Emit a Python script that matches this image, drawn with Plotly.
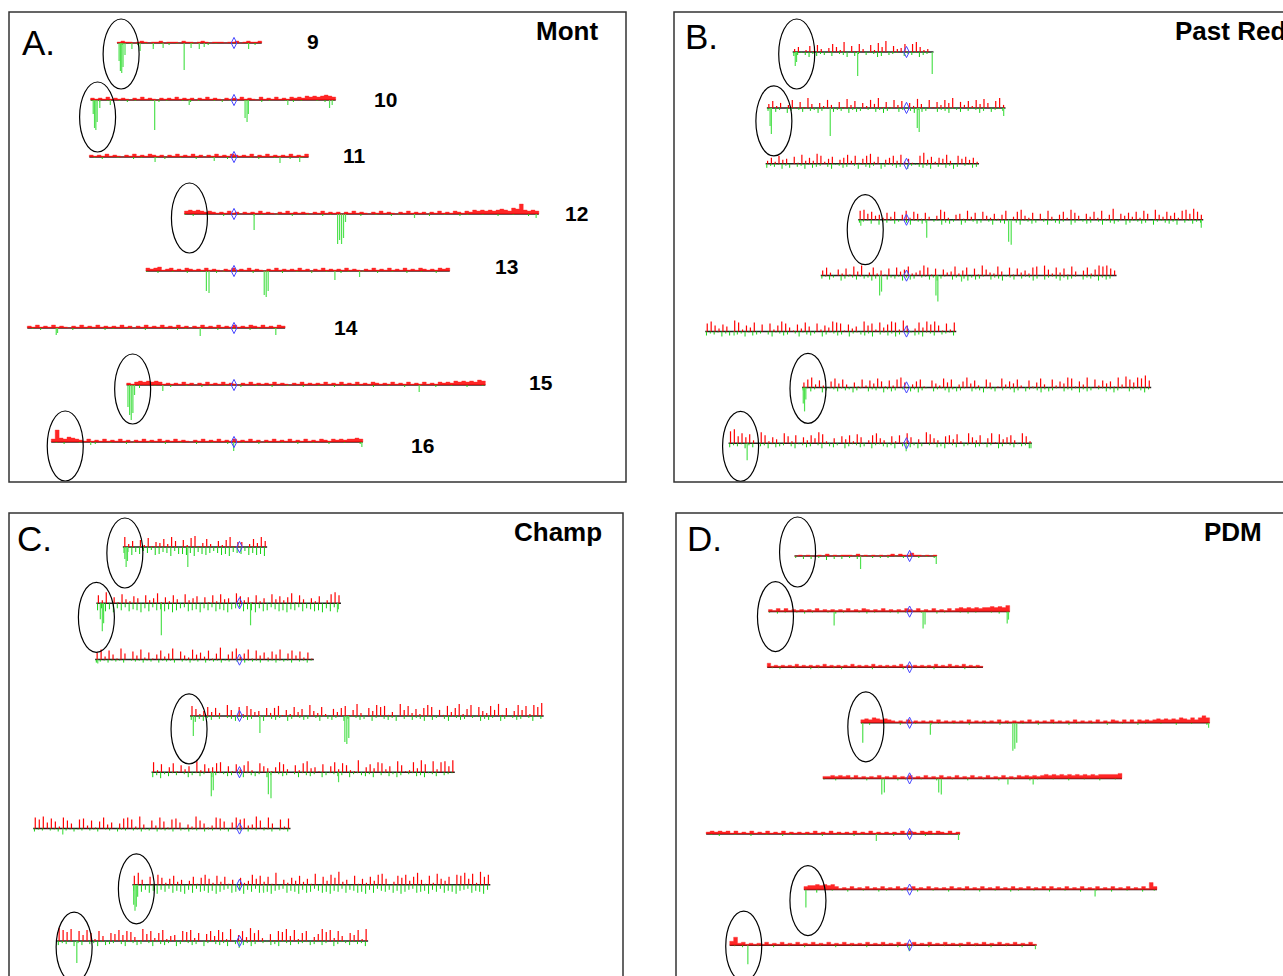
import plotly.graph_objects as go

# ---------------- data ----------------
CHROMS = [9, 10, 11, 12, 13, 14, 15, 16]
CHR_LEN_KB = [439.9, 745.7, 666.8, 1078.2, 924.4, 784.3, 1091.3, 948.1]
CEN_KB = [355.6, 436.3, 440.1, 150.8, 268.0, 628.8, 326.6, 556.0]
PANEL_LETTERS = ["A.", "B.", "C.", "D."]
PANEL_NAMES = ["Mont", "Past Red", "Champ", "PDM"]

# red (up) signal per bin, base-36 digits; green (down) small signal per bin
RED_A = [
    "12110121011201110211012101110112012112",
    "2121312121021312102121312120213121021213121031213121323243434543",
    "21213121021312132120213121312021312132121302131212131213",
    "34343232121312021213121021312121021312120213121021312102131212021312132132434343454365a4343",
    "323412312132121312102131213121021312121312021312121312102131213121312132121323",
    "2131213121021312131212131202131213121312021312131213121321312132",
    "2134343431212131202131213121021312121312102131212131213121312132121312131213121323243434354",
    "3c43543213121312131202131213121312102131213121312131202131213121312132132323343",
]
GREEN_A = [
    "0201020103010201000100020100010001020",
    "10201001020100010201000102010001020100010002010001020100010201",
    "01020001000201000102000100020001000201000102000100020010",
    "102000100020001000201000100020001000201000100020001000201000100020001000201000100020001000201",
    "10020001000200010002010001000200010002000100020001000201000100020001000200010002000",
    "0102000100020001000201000100020001000201000100020001000201000100",
    "00030001000200010002010001000200010002000100020001000201000100020001000200010002000100020001",
    "01020001000200010002010001000200010002000100020001000201000100020001000200010002",
]
DIPS_A = [
    [(6, 18), (10, 28), (14, 30), (18, 24), (24, 12), (45, 6), (70, 8), (110, 6), (140, 5), (204, 27), (225, 5), (250, 6), (265, 4), (400, 6)],
    [(8, 14), (12, 28), (16, 30), (20, 22), (28, 8), (60, 5), (195, 30), (300, 5), (470, 18), (476, 22), (480, 14), (600, 5), (727, 8), (735, 5)],
    [(200, 5), (380, 4), (580, 6), (640, 5)],
    [(212, 16), (466, 30), (472, 26), (478, 30), (484, 24), (490, 8), (700, 4), (1070, 4)],
    [(184, 20), (192, 22), (360, 24), (366, 26), (372, 20), (575, 9), (650, 6)],
    [(88, 7), (92, 5), (526, 8), (756, 7)],
    [(4, 22), (9, 30), (14, 35), (19, 28), (24, 10), (110, 6), (890, 7)],
    [(120, 3), (555, 9), (945, 5)],
]

RED_B = [
    "3502617304852a0618307295b0634818a5230",
    "4725038161a40528306193705284a161837052940816385a06372849507a3",
    "3628450719363a8257046938158a2704683925108b47265930857462",
    "9a6845273805928617304a82056193708426159038a427061930582a7406382915b0647382960a5384729a6b85",
    "5830627194a038251708469235a81706349258071a632940817352890a6283719405826a9a75",
    "8a63750b92649070826a841739508264a9817350a682947a92b60394a7a61829",
    "58a3720694830518274961728a5036810742958036a4720850193648207159308264a9163a0827461a3b85a9c7",
    "ce7a6930b82640a72806385b92050748296038a5307281a6040b9530784920a63805a1946830a72",
]
GREEN_B = [
    "4313524231402351420312540321042315320",
    "31420531241325310423152430214253104213524310423512403125304213",
    "42315240325143203512430251342053124305213425031425302143",
    "3214052314203512430215342053124302513420351243025134205312430251342053124305213425031423",
    "31420531241325310423152430214253104213524310423512403125304213524310423152430",
    "42315240325143203512430251342053124305213425031425302143512403214",
    "3142053124132531042315243021425310421352431042351240312530421352431042315243021425310421352",
    "4231524032514320351243025134205312430521342503142530214351240321431420531241325",
]
DIPS_B = [
    [(8, 14), (12, 10), (203, 24), (436, 22)],
    [(10, 18), (14, 26), (198, 28), (470, 20), (476, 24), (740, 8)],
    [],
    [(8, 6), (214, 18), (470, 22), (478, 25), (1072, 8)],
    [(184, 20), (190, 16), (360, 20), (366, 26), (440, 6)],
    [(90, 4)],
    [(4, 16), (8, 24), (12, 12)],
    [(58, 17), (555, 8), (945, 5)],
]

RED_C = [
    "a36072915483a60729b14830627a1550384a6",
    "83b061942750835a1628409357061829450a7361825094736a1840527039b8",
    "7a3951b6084a2715936b0842a573916c058b36a1947285a06948271",
    "a72594830b6192a7450838a1629470b53920748a16c3085b9a140c6a3728b9061a48c27b0953a6c1805b6a2b9d",
    "a2805917360b28459a061837b2096415a830729b451806a39721c0584a9360b712a4c80b3ab6c",
    "b9c6a72b8509a3817b4605ab92c4083b719a6042c8513ba706b9a34c81b5092a",
    "9c5081a72693504817a62938150724a69381c052749361b084a7d350916284ab60397a48c5192b6480a9c6b2d8a",
    "db9c0a6b82a5087b6a941c7a38b2560a9b3807a5b92c06a4d8b3071a9c5b28a047c9b3a5086b2c",
]
GREEN_C = [
    "6585746387569477869578646879567486879",
    "75869574867958476869754876957486796548679587468796748568795846",
    "32131213012131203121302131203121312021312130213121302131",
    "4635241302351243025134205312430251342053124305213425031423514203512430215342053124302513",
    "53624130253142053124302513420531243025134205312430521342503142530214351240321",
    "31202130213120213012031202131203121302131203120213012031202130213",
    "6475869574867958476869754876957486796548679587468796748568795846758697548769574867965486795",
    "4231524032514320351243025134205312430521342503142530214351240321431420531241325",
]
DIPS_C = [
    [(6, 12), (10, 20), (14, 14), (198, 20)],
    [(12, 16), (18, 28), (22, 20), (198, 32), (470, 22), (735, 9)],
    [(8, 4)],
    [(10, 20), (213, 17), (472, 26), (478, 28), (484, 22)],
    [(182, 24), (188, 18), (356, 22), (364, 26), (570, 10)],
    [(90, 6)],
    [(4, 20), (8, 26), (12, 22), (16, 12), (400, 8)],
    [(60, 22), (555, 7)],
]

RED_D = [
    "0101001020101110201010101202113110101",
    "21313121212131212121312132121312121321312131213134343434454546",
    "41212121312121213121212131212131212121312121212131213121312121",
    "34354343212131212121312121213121212131212121312121312121312121312132131313232343434354353575",
    "22323231312121312131213121312131213121312131213121323232343434343434343444445",
    "2323231312131213121312121213121312121312131212121313213231321312",
    "34454545312131213121312131213121312121312131213121312131213121313121312131213121312131213173",
    "4823121213121312131213121312131212131213121312131213121312121312131213121312131",
]
GREEN_D = [
    "2030302040303020301020202010201020102",
    "10201001020100010201000102010001020100010002010001020100010201",
    "01020001000201000102000100020001000201000102000100020010",
    "1020001000200010002010001000200010002010001000200010002010001000200010002010001000200010002",
    "10020001000200010002010001000200010002000100020001000201000100020001000200010",
    "0102000100020001000201000100020001000201000100020001000201000100",
    "0003000100020001000201000100020001000200010002000100020100010002000100020001000200010002001",
    "0102000100020001000200010002000100020001000200010002000100020001000200010002000",
]
DIPS_D = [
    [(204, 13), (438, 8)],
    [(203, 14), (478, 17), (484, 13), (738, 12), (742, 8)],
    [],
    [(6, 20), (215, 12), (470, 28), (476, 26), (482, 20), (1075, 5)],
    [(182, 16), (190, 14), (358, 14), (366, 16), (572, 6), (650, 6)],
    [(526, 7), (780, 6)],
    [(6, 18), (900, 7)],
    [(56, 19), (555, 6), (945, 4)],
]

RED = [RED_A, RED_B, RED_C, RED_D]
GREEN = [GREEN_A, GREEN_B, GREEN_C, GREEN_D]
DIPS = [DIPS_A, DIPS_B, DIPS_C, DIPS_D]

# ---------------- layout config ----------------
W, H = 1283, 976
BOX = [(9, 12, 626, 482), (674, 12, 1283, 482), (9, 513, 623, 976), (676, 513, 1283, 976)]
CEN_PX = [234, 906.5, 239.5, 909.6]
PX_PER_KB = [0.3287, 0.320, 0.328, 0.3235]
ROW0_PX = [43, 52, 547, 556]
ROW_GAP = [57, 55.9, 56.3, 55.6]
FRAME_BOTTOM_OPEN = [False, False, True, True]
FRAME_RIGHT_OPEN = [False, True, False, True]
RED_AS_PROFILE = [True, False, False, True]   # dense low signal drawn as a stepped band

ELL = [
    {0: (4, 11), 1: (7, 17), 3: (5, 4), 6: (6, 4), 7: (14, 4)},
    {0: (4, 2), 1: (7, 13), 3: (7, 10), 6: (6, 1), 7: (12, 3)},
    {0: (2, 6), 1: (0, 14), 3: (-1, 13), 6: (4, 4), 7: (17, 6)},
    {0: (3, -4), 1: (7, 5), 3: (5, 4), 6: (4, 11), 7: (14, 1)},
]
ELL_W, ELL_H = 36, 70

LABEL_OFF_PX = [51, 50, 46, 38, 57, 61, 56, 60]
LABEL_DY_PX = [-1, 0, -1, 0, -4, 0, -2, 4]

RED_COL = "rgb(255,0,0)"
GREEN_COL = "rgb(20,210,20)"
DIP_COL = "rgb(80,225,80)"
FONT = "Liberation Sans, Arial, Helvetica, sans-serif"

fig = go.Figure()
shapes = []
annotations = []

for p in range(4):
    l, t, r, b = BOX[p]
    ax = "" if p == 0 else str(p + 1)
    xa, ya = "x" + ax, "y" + ax
    s = PX_PER_KB[p]
    xr = [-(CEN_PX[p] - l) / s, (r - CEN_PX[p]) / s]
    yr = [b - ROW0_PX[p], t - ROW0_PX[p]]
    fig.layout["xaxis" + ax] = dict(domain=[l / W, r / W], range=xr, visible=False,
                                    fixedrange=True, anchor=ya)
    fig.layout["yaxis" + ax] = dict(domain=[1 - b / H, 1 - t / H], range=yr, visible=False,
                                    fixedrange=True, anchor=xa)

    bx, by, rx, ry, gx, gy, dx_, dy_ = [], [], [], [], [], [], [], []
    profiles = []
    for i, c in enumerate(CHROMS):
        row = i * ROW_GAP[p]
        start = -CEN_KB[i]
        L = CHR_LEN_KB[i]
        end = start + L
        bx += [start, end, None]
        by += [row, row, None]
        rs = RED[p][i]
        n = len(rs)
        if RED_AS_PROFILE[p]:
            px_, py_ = [start], [row]
            for j, ch in enumerate(rs):
                h = int(ch, 36)
                px_ += [start + j * L / n, start + (j + 1) * L / n]
                py_ += [row - h, row - h]
            px_ += [end, start]
            py_ += [row, row]
            profiles.append((px_, py_))
        else:
            for j, ch in enumerate(rs):
                h = int(ch, 36)
                if h:
                    x = start + (j + 0.5) * L / n
                    rx += [x, x, None]
                    ry += [row, row - h, None]
        gs = GREEN[p][i]
        n = len(gs)
        for j, ch in enumerate(gs):
            h = int(ch, 36)
            if h:
                x = start + (j + 0.3) * L / n
                gx += [x, x, None]
                gy += [row, row + h, None]
        for pos, dep in DIPS[p][i]:
            x = start + pos
            dx_ += [x, x, None]
            dy_ += [row, row + dep, None]

        if i in ELL[p]:
            ddx, ddy = ELL[p][i]
            cx = start + ddx / s
            cy = row + ddy
            shapes.append(dict(type="circle", xref=xa, yref=ya,
                               x0=cx - ELL_W / 2 / s, x1=cx + ELL_W / 2 / s,
                               y0=cy - ELL_H / 2, y1=cy + ELL_H / 2,
                               line=dict(color="black", width=1.2), layer="above"))
        if p == 0:
            annotations.append(dict(xref=xa, yref=ya, x=end + LABEL_OFF_PX[i] / s,
                                    y=row + LABEL_DY_PX[i], text="<b>" + str(c) + "</b>",
                                    showarrow=False,
                                    font=dict(family=FONT, size=21, color="black"),
                                    xanchor="center", yanchor="middle"))

    fig.add_trace(go.Scatter(x=bx, y=by, mode="lines", xaxis=xa, yaxis=ya,
                             line=dict(color="#222222", width=1.5), hoverinfo="skip"))
    fig.add_trace(go.Scatter(x=gx, y=gy, mode="lines", xaxis=xa, yaxis=ya,
                             line=dict(color=GREEN_COL, width=1), hoverinfo="skip"))
    fig.add_trace(go.Scatter(x=dx_, y=dy_, mode="lines", xaxis=xa, yaxis=ya,
                             line=dict(color=DIP_COL, width=1.2), hoverinfo="skip"))
    for px_, py_ in profiles:
        fig.add_trace(go.Scatter(x=px_, y=py_, mode="lines", fill="toself", xaxis=xa, yaxis=ya,
                                 fillcolor="rgba(255,0,0,0.85)",
                                 line=dict(color="rgba(255,40,40,0.6)", width=0.6),
                                 hoverinfo="skip"))
    if rx:
        fig.add_trace(go.Scatter(x=rx, y=ry, mode="lines", xaxis=xa, yaxis=ya,
                                 line=dict(color=RED_COL, width=1.2), hoverinfo="skip"))
    fig.add_trace(go.Scatter(x=[0] * 8, y=[i * ROW_GAP[p] for i in range(8)], mode="markers",
                             xaxis=xa, yaxis=ya, hoverinfo="skip",
                             marker=dict(symbol="diamond-tall-open", size=8,
                                         color="rgb(70,70,255)", line=dict(width=1))))

    x1 = 1.02 if FRAME_RIGHT_OPEN[p] else r / W
    y0 = -0.02 if FRAME_BOTTOM_OPEN[p] else 1 - b / H
    shapes.append(dict(type="rect", xref="paper", yref="paper", x0=l / W, x1=x1,
                       y0=y0, y1=1 - t / H, line=dict(color="#333333", width=1.5),
                       layer="above"))

LETTER_POS = [(0.018, 0.936), (0.0148, 0.947), (0.0098, 0.946), (0.0148, 0.946)]
NAME_POS = [(0.958, 0.96, "right"), (0.819, 0.96, "left"), (0.969, 0.959, "right"), (0.969, 0.959, "right")]
for p in range(4):
    ax = "" if p == 0 else str(p + 1)
    annotations.append(dict(xref="x" + ax + " domain", yref="y" + ax + " domain",
                            x=LETTER_POS[p][0], y=LETTER_POS[p][1], text=PANEL_LETTERS[p],
                            showarrow=False, xanchor="left", yanchor="middle",
                            font=dict(family=FONT, size=35, color="black")))
    annotations.append(dict(xref="x" + ax + " domain", yref="y" + ax + " domain",
                            x=NAME_POS[p][0], y=NAME_POS[p][1], text="<b>" + PANEL_NAMES[p] + "</b>",
                            showarrow=False, xanchor=NAME_POS[p][2], yanchor="middle",
                            font=dict(family=FONT, size=26, color="black")))

fig.update_layout(width=W, height=H, margin=dict(l=0, r=0, t=0, b=0),
                  paper_bgcolor="white", plot_bgcolor="white", showlegend=False,
                  shapes=shapes, annotations=annotations)

fig.write_html("out.html", config={"displayModeBar": False},
               post_script="document.body.style.margin='0px';document.body.style.overflow='hidden';")
